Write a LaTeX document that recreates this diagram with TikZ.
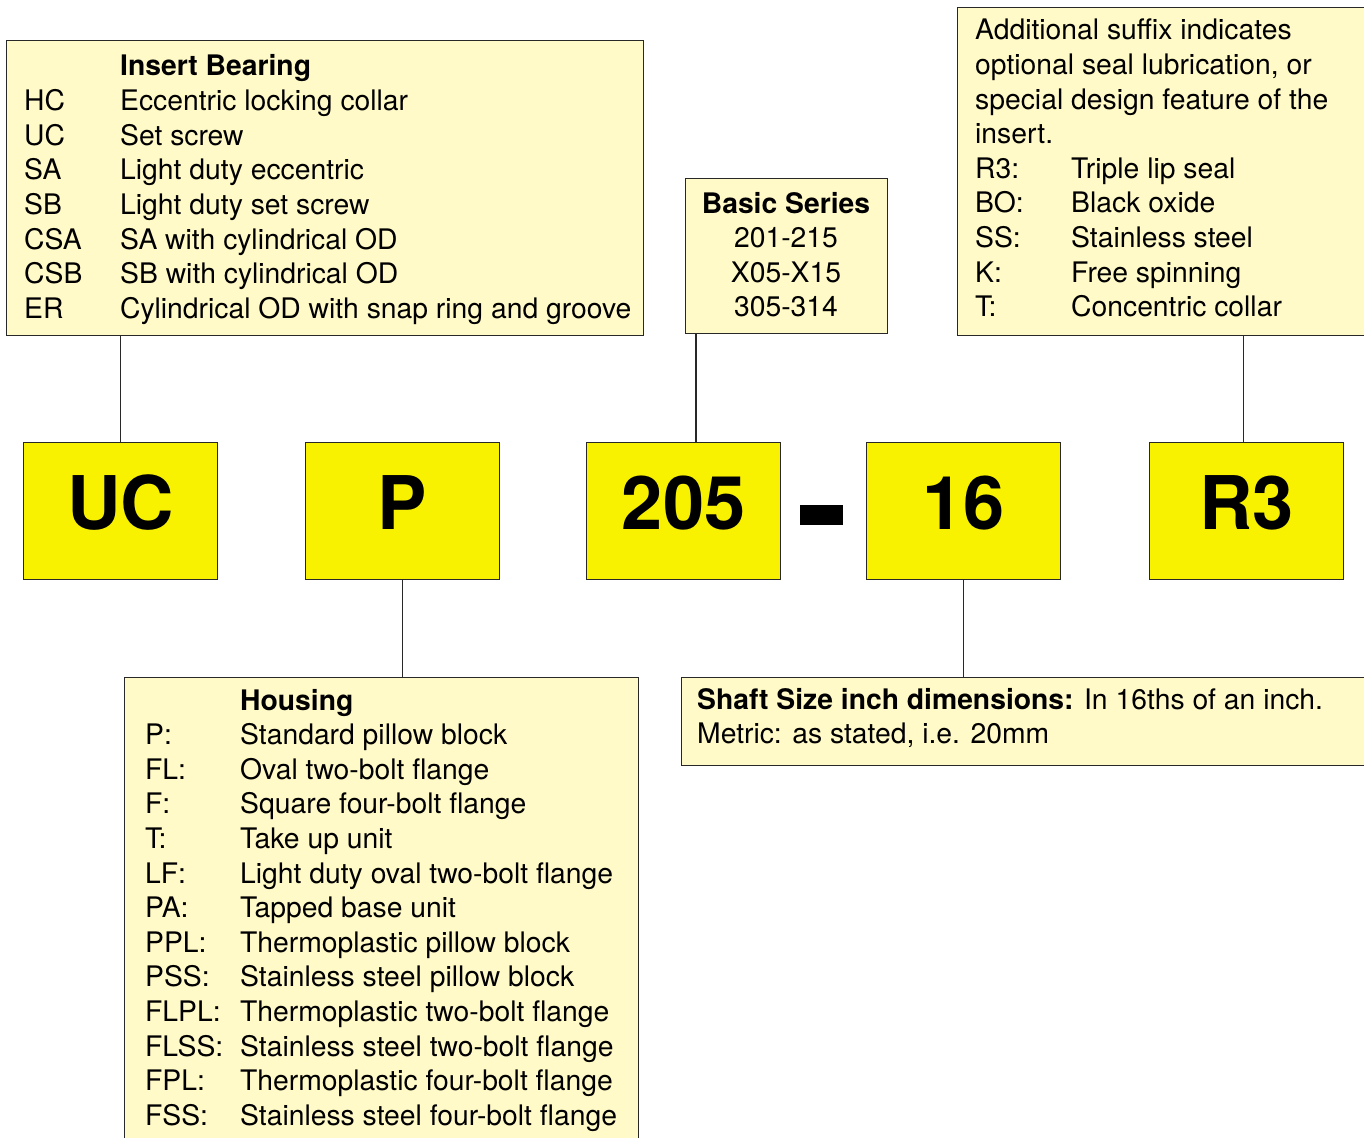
\documentclass[tikz,border=0pt]{standalone}
\usepackage{fontspec}
\setmainfont{TeX Gyre Heros}
\usepackage{array}
\definecolor{pale}{RGB}{255,250,200}
\definecolor{bigyellow}{RGB}{248,242,0}
\definecolor{edge}{RGB}{40,40,40}
\begin{document}
\begin{tikzpicture}[x=1pt,y=-1pt,
  panel/.style={draw=edge, line width=1.3pt, fill=pale, rectangle, inner sep=0pt, anchor=north west},
  codebox/.style={draw=edge, line width=1.3pt, fill=bigyellow, rectangle, inner sep=0pt, anchor=north west,
    minimum width=194pt, minimum height=137pt},
  bigtxt/.style={font=\fontsize{74}{74}\selectfont\bfseries, inner sep=0pt, anchor=base},
  body/.style={inner sep=0pt, anchor=base west, font=\fontsize{28.3}{34.6}\selectfont},
  link/.style={draw=edge, line width=1.3pt}
]
\useasboundingbox (0,0) rectangle (1364,1137);
\clip (0,0) rectangle (1364,1137);

% panels
\node[panel, minimum width=637pt, minimum height=295pt] (ib) at (6,40) {};
\node[panel, minimum width=202pt, minimum height=155pt] (ser) at (685,178) {};
\node[panel, minimum width=420pt, minimum height=328pt] (suf) at (957,7) {};
\node[panel, minimum width=514pt, minimum height=480pt] (hou) at (124,677) {};
\node[panel, minimum width=700pt, minimum height=88pt] (sha) at (681,677) {};

% panel texts
\node[body] (ibt) at (24,76) {\begin{tabular}[t]{@{}p{96pt}@{}l@{}}
 & \textbf{Insert Bearing}\\
HC & Eccentric locking collar\\
UC & Set screw\\
SA & Light duty eccentric\\
SB & Light duty set screw\\
CSA & SA with cylindrical OD\\
CSB & SB with cylindrical OD\\
ER & Cylindrical OD with snap ring and groove
\end{tabular}};

\node[body, anchor=base] (sert) at (786,213) {\begin{tabular}[t]{@{}c@{}}
\textbf{Basic Series}\\
201-215\\
X05-X15\\
305-314
\end{tabular}};

\node[body] (suft) at (975,40) {\begin{tabular}[t]{@{}p{96pt}@{}l@{}}
\multicolumn{2}{@{}l@{}}{Additional suffix indicates}\\
\multicolumn{2}{@{}l@{}}{optional seal lubrication, or}\\
\multicolumn{2}{@{}l@{}}{special design feature of the}\\
\multicolumn{2}{@{}l@{}}{insert.}\\
R3: & Triple lip seal\\
BO: & Black oxide\\
SS: & Stainless steel\\
K: & Free spinning\\
T: & Concentric collar
\end{tabular}};

\node[body] (hout) at (145,710) {\begin{tabular}[t]{@{}p{95pt}@{}l@{}}
 & \textbf{Housing}\\
P: & Standard pillow block\\
FL: & Oval two-bolt flange\\
F: & Square four-bolt flange\\
T: & Take up unit\\
LF: & Light duty oval two-bolt flange\\
PA: & Tapped base unit\\
PPL: & Thermoplastic pillow block\\
PSS: & Stainless steel pillow block\\
FLPL: & Thermoplastic two-bolt flange\\
FLSS: & Stainless steel two-bolt flange\\
FPL: & Thermoplastic four-bolt flange\\
FSS: & Stainless steel four-bolt flange
\end{tabular}};

\node[body] (shat) at (697,709) {\begin{tabular}[t]{@{}l@{}}
\textbf{Shaft Size inch dimensions:} In 16ths of an inch.\\
Metric: as stated, i.e. 20mm
\end{tabular}};

% code boxes
\node[codebox] (uc) at (23,442) {};
\node[codebox] (p) at (305,442) {};
\node[codebox] (n205) at (586,442) {};
\node[codebox] (n16) at (866,442) {};
\node[codebox] (r3) at (1149,442) {};
\coordinate (bl) at (0,529);
\node[bigtxt] (uct) at (uc.center |- bl) {UC};
\node[bigtxt] (pt) at (p.center |- bl) {P};
\node[bigtxt] (n205t) at (n205.center |- bl) {205};
\node[bigtxt] (n16t) at (n16.center |- bl) {16};
\node[bigtxt] (r3t) at (r3.center |- bl) {R3};
\node[fill=black, inner sep=0pt, minimum width=43pt, minimum height=20pt] (dash) at (821.5,515) {};

% connectors
\draw[link] (uc.north) -- (uc.north |- ib.south);
\draw[link] (p.south) -- (p.south |- hou.north);
\draw[link] ([xshift=11pt]ser.south west) -- ([xshift=11pt]ser.south west |- n205.north);
\draw[link] (n16.south) -- (n16.south |- sha.north);
\draw[link] ([xshift=-3pt]r3.north) -- ([xshift=-3pt]r3.north |- suf.south);
\end{tikzpicture}
\end{document}
